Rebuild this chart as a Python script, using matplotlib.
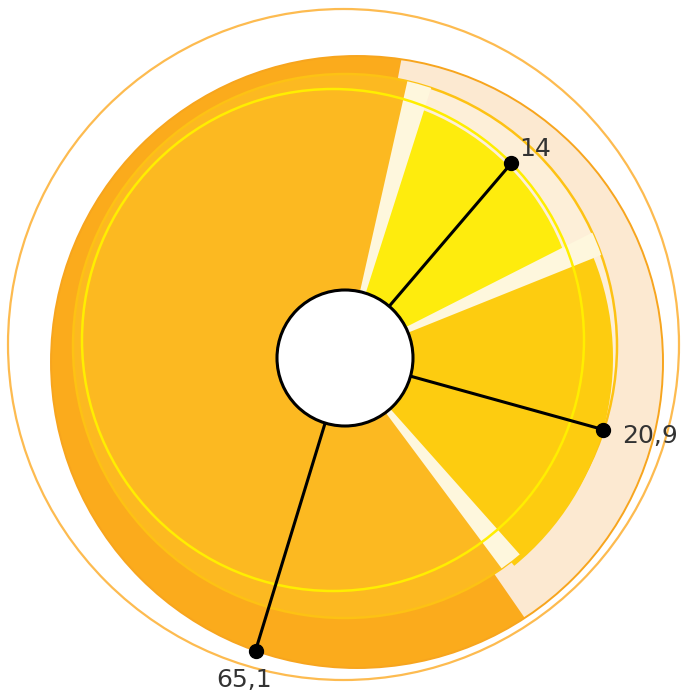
import numpy as np
import matplotlib
matplotlib.use("Agg")
import matplotlib.pyplot as plt
from matplotlib.patches import Wedge, Circle

# data
values = [14, 20.9, 65.1]
labels = ["14", "20,9", "65,1"]
slice_colors = ["#FEEC0D", "#FDCC10", "#FCB921"]

# layout (pixel units, y down)
start_deg = 15.2            # clockwise from 12 o'clock
label_deg = [40.5, 105.5, 197]
label_off = [(8, 7, "left"), (19, -13, "left"), (-11, -36, "center")]
hole_c, hole_r = (345, 358), 68
disc_c, disc_r = (357, 362), 306
ring_c, ring_r = (345, 346), 272      # gold ring
face_c, face_r = (333, 340), 251      # yellow ring
outer_c, outer_r = (343.5, 344.5), 335.5

fig = plt.figure(figsize=(6.82, 6.91), dpi=100)
ax = fig.add_axes([0, 0, 1, 1])
ax.set_xlim(0, 682)
ax.set_ylim(691, 0)
ax.set_aspect("equal")
ax.axis("off")


def th(c):
    # compass angle -> wedge angle (y axis is inverted)
    return c - 90


def circ(c, r):
    return Circle(c, r, transform=ax.transData)


def ray_hit(c, r, deg):
    # where the ray from the hole centre meets circle (c, r)
    u = np.array([np.sin(np.radians(deg)), -np.cos(np.radians(deg))])
    d = np.array(hole_c) - np.array(c)
    b = d @ u
    t = -b + np.sqrt(b * b - (d @ d - r * r))
    return np.array(hole_c) + t * u, u


bounds = start_deg + np.concatenate([[0], np.cumsum(values)]) / sum(values) * 360
pad = 4.5

ax.add_patch(Circle(outer_c, outer_r, fill=False, ec="#FDBB50", lw=1.6))
ax.add_patch(Circle(disc_c, disc_r, fc="#FBAB1C", ec="none"))

# pale band behind the two small slices
pale = Wedge(hole_c, 420, th(bounds[0] - pad), th(bounds[2] + pad), fc="#FCE9D1", ec="none")
ax.add_patch(pale)
pale.set_clip_path(circ(disc_c, disc_r))
pale2 = Wedge(hole_c, 420, th(bounds[0] - pad), th(bounds[2] + pad), fc="#FDEFD8", ec="none")
ax.add_patch(pale2)
pale2.set_clip_path(circ(ring_c, ring_r))
ax.add_patch(Circle(disc_c, disc_r, fill=False, ec="#F7A51E", lw=1.4))

# slices
big = Wedge(hole_c, 420, th(bounds[2]), th(bounds[3]), fc=slice_colors[2], ec="none")
ax.add_patch(big)
big.set_clip_path(circ(ring_c, ring_r))
small = Wedge(hole_c, 420, th(bounds[0]), th(bounds[1]), fc=slice_colors[0], ec="none")
ax.add_patch(small)
small.set_clip_path(circ(face_c, 247))
ax.add_patch(Circle(ring_c, ring_r, fill=False, ec="#FDC214", lw=1.8))
ax.add_patch(Wedge(hole_c, 268, th(bounds[1]), th(bounds[2]), fc=slice_colors[1], ec="none"))

# light gaps between slices
for b in bounds[:3]:
    g = Wedge(hole_c, 420, th(b) - 2.5, th(b) + 2.5, fc="#FEF7DD", ec="none")
    ax.add_patch(g)
    g.set_clip_path(circ(ring_c, ring_r))

ax.add_patch(Circle(face_c, face_r, fill=False, ec="#FFEE00", lw=1.8))

# leaders and labels
targets = [(face_c, face_r), (hole_c, 268), (disc_c, disc_r)]
for i in range(3):
    p, u = ray_hit(targets[i][0], targets[i][1], label_deg[i])
    s = np.array(hole_c) + (hole_r + 1) * u
    ax.plot([s[0], p[0]], [s[1], p[1]], color="black", lw=2.2, zorder=5)
    ax.plot(p[0], p[1], "o", color="black", ms=10, zorder=6)
    dx, dy, ha = label_off[i]
    ax.annotate(labels[i], p, xytext=(dx, dy), textcoords="offset pixels",
                ha=ha, va="baseline", fontsize=18, color="#333333", zorder=7)

ax.add_patch(Circle(hole_c, hole_r, fc="white", ec="black", lw=2.2, zorder=8))

plt.savefig("out.png", dpi=100)
